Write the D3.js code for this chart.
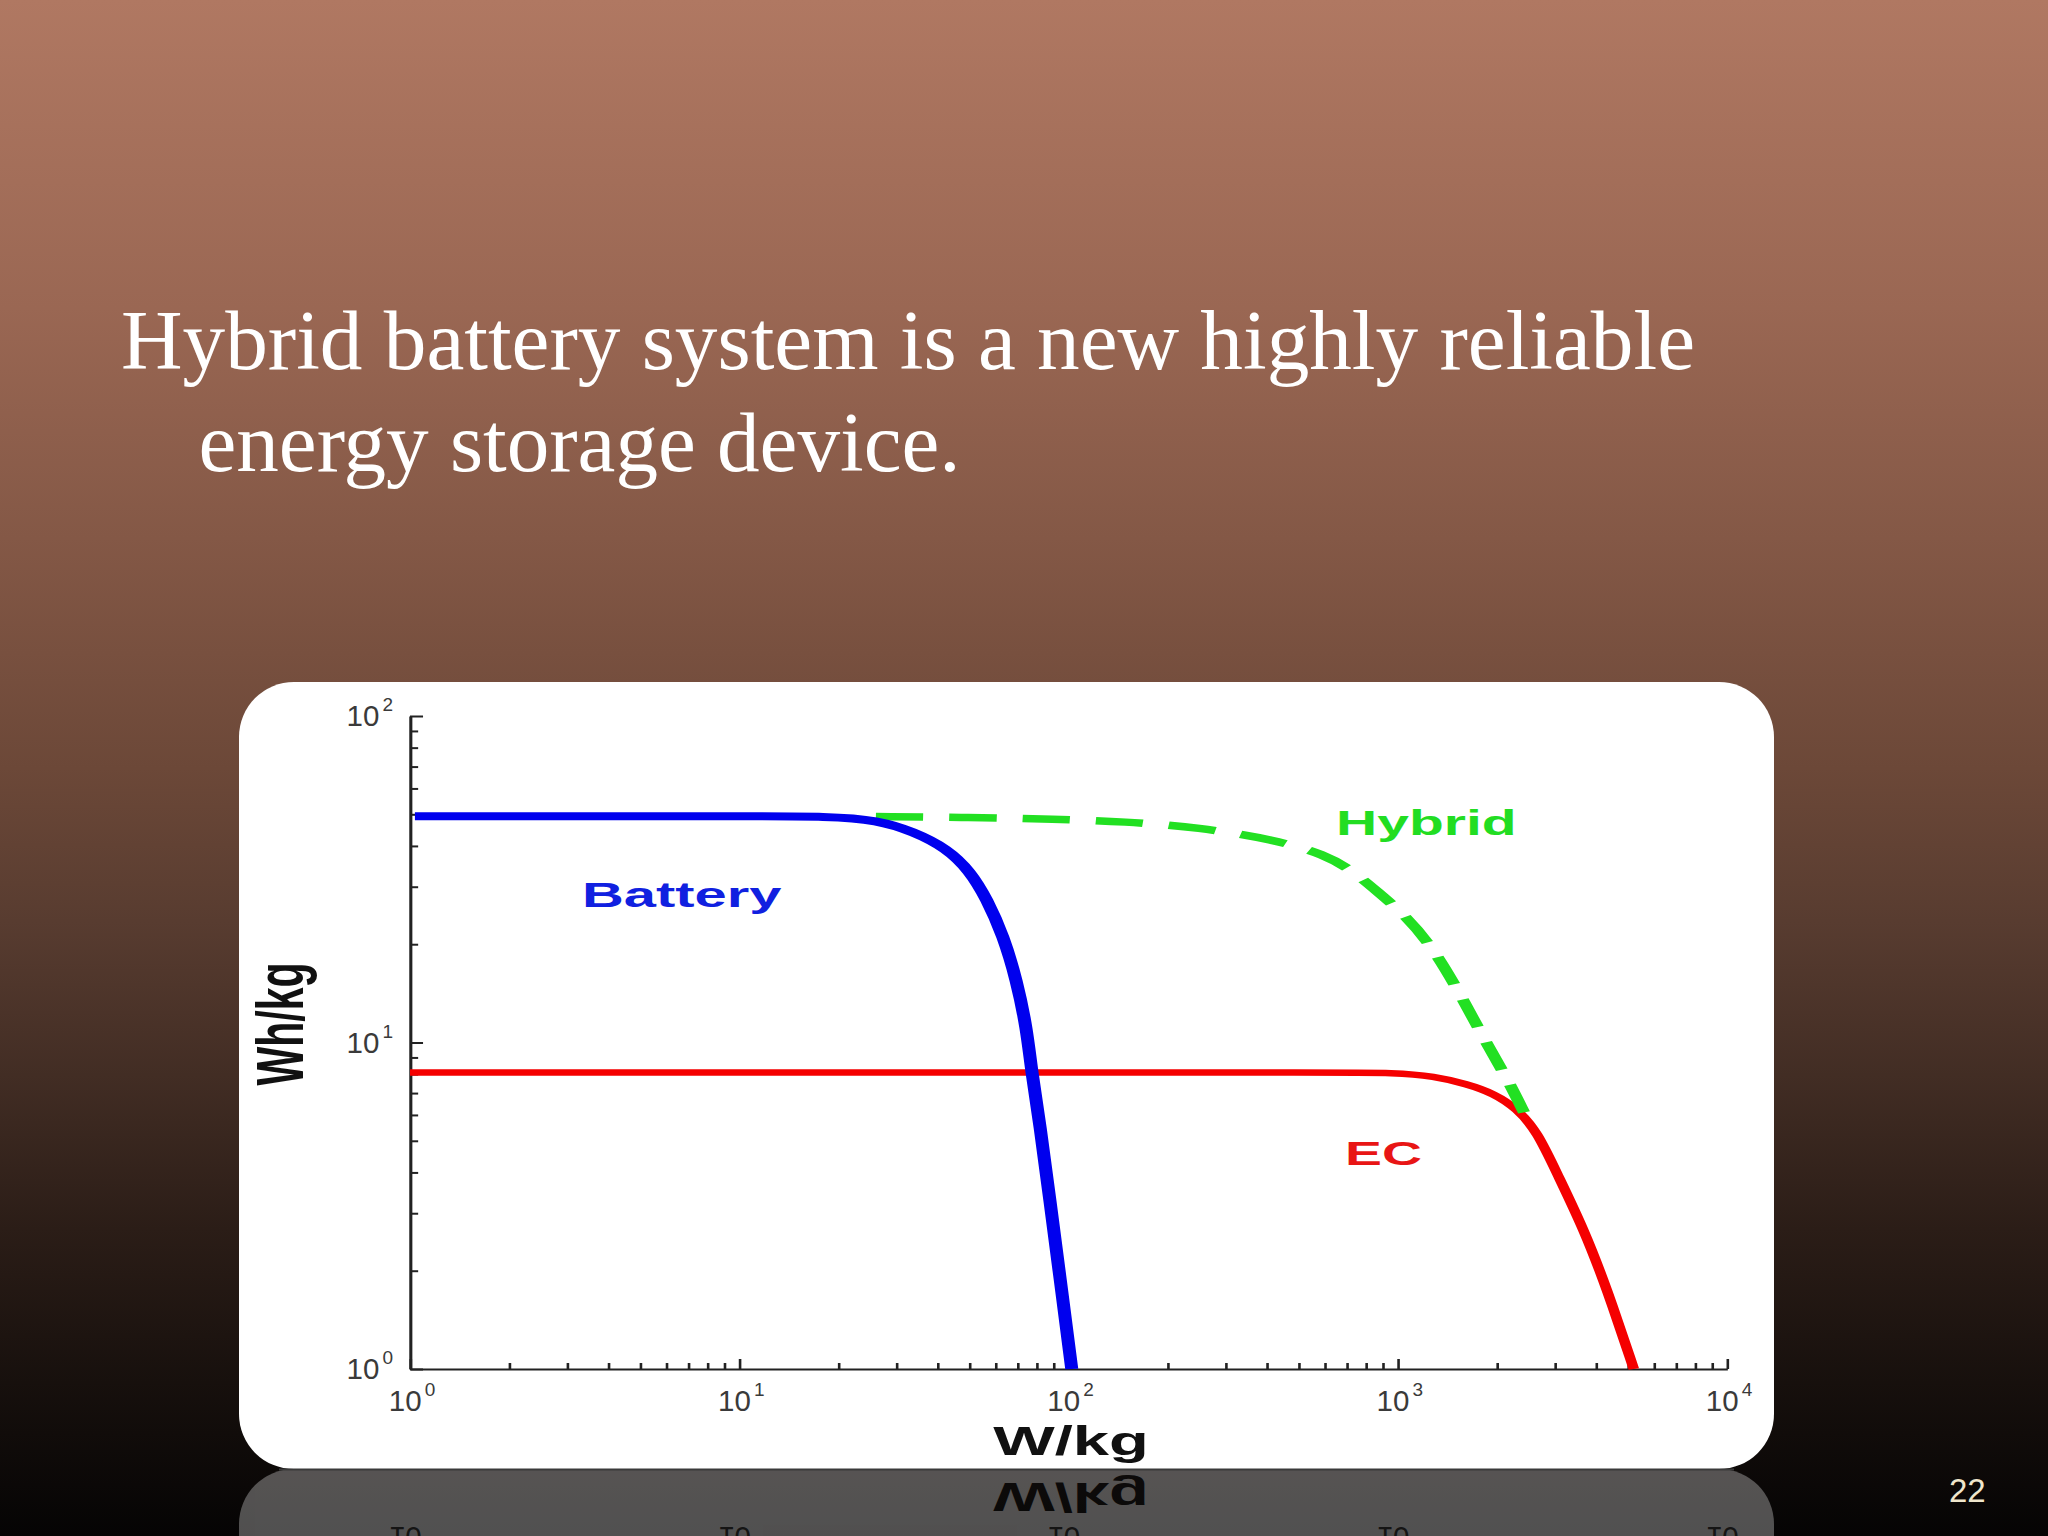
<!DOCTYPE html>
<html>
<head>
<meta charset="utf-8">
<script src="https://cdn.jsdelivr.net/npm/d3@7"></script>
<style>
  html, body { margin: 0; padding: 0; background: #000; }
  svg { display: block; }
</style>
</head>
<body>
<script>
// ---------- DATA (W/kg, Wh/kg) ----------
const battery = [[1.035,49.3],[10,49.3],[18.9,49.3],[26.2,48.0],[33.8,44.3],[42.7,39.3],[50.2,33.5],[56.5,27.5],[63.4,21.2],[69.6,15.5],[74.7,11.0],[77.3,8.09],[81.9,5.62],[87.8,3.28],[94.2,1.91],[102.3,1.0]];
const hybrid  = [[26,49.2],[50,48.9],[91,48.3],[148,47.5],[249,45.6],[421,41.8],[601,37.7],[733,33.4],[863,29.1],[1064,24.3],[1283,19.4],[1546,14.1],[1863,9.9],[2143,7.8],[2420,6.1]];
const ec      = [[1,8.09],[100,8.09],[600,8.09],[993,8.09],[1285,7.88],[1622,7.47],[1958,6.98],[2306,6.27],[2653,5.33],[3050,3.96],[3675,2.68],[4328,1.75],[5212,1.0]];

const xMajor = [1, 10, 100, 1000, 10000];
const yMajor = [1, 10, 100];
const xTickExp = ["0", "1", "2", "3", "4"];
const yTickExp = ["0", "1", "2"];
const seriesLabels = ["Battery", "Hybrid", "EC"];
const titleLines = ["Hybrid battery system is a new highly reliable", "energy storage device."];
const pageNumber = "22";
const xTitle = "W/kg";
const yTitle = "Wh/kg";

// ---------- LAYOUT ----------
const W = 2048, H = 1536;
const SX = 1.63; // horizontal stretch of the embedded chart picture
const px0 = 410, px1 = 1727, py0 = 1369, py1 = 716;
const card = {x: 239, y: 682, w: 1535, h: 787, r: 55};

function minorTicks(majors) {
  const t = [];
  for (let i = 0; i < majors.length - 1; i++)
    for (let k = 1; k <= 9; k++) t.push(majors[i] * k);
  t.push(majors[majors.length - 1]);
  return t;
}

const svg = d3.select("body").append("svg").attr("width", W).attr("height", H);
const defs = svg.append("defs");

const bg = defs.append("linearGradient").attr("id", "bg").attr("x1", 0).attr("y1", 0).attr("x2", 0).attr("y2", 1);
[[0, "#B07862"], [0.2, "#9A6753"], [0.35, "#845846"], [0.5, "#6C4838"], [0.6, "#583C30"], [0.7, "#422D24"], [0.8, "#2B1D17"], [0.9, "#17100D"], [1, "#050404"]]
  .forEach(([o, c]) => bg.append("stop").attr("offset", o).attr("stop-color", c));

defs.append("clipPath").attr("id", "reflClip")
  .append("rect").attr("x", 0).attr("y", card.y + card.h).attr("width", W).attr("height", H - card.y - card.h);

svg.append("rect").attr("width", W).attr("height", H).attr("fill", "url(#bg)");

// ---------- TITLE ----------
svg.append("text").attr("x", 121).attr("y", 369)
  .attr("font-family", "'Liberation Serif','Times New Roman',serif").attr("font-size", 85.5)
  .attr("fill", "#FFFFFF").attr("textLength", 1574).attr("lengthAdjust", "spacingAndGlyphs")
  .text(titleLines[0]);
svg.append("text").attr("x", 198.5).attr("y", 471)
  .attr("font-family", "'Liberation Serif','Times New Roman',serif").attr("font-size", 85.5)
  .attr("fill", "#FFFFFF").attr("textLength", 762).attr("lengthAdjust", "spacingAndGlyphs")
  .text(titleLines[1]);

// ---------- CARD ----------
const cardG = svg.append("g").attr("id", "card");
cardG.append("rect").attr("x", card.x).attr("y", card.y).attr("width", card.w).attr("height", card.h)
  .attr("rx", card.r).attr("ry", card.r).attr("fill", "#FFFFFF");

// screen scales (for text) and stretched-group scales (for marks)
const x = d3.scaleLog().domain([1, 10000]).range([px0, px1]);
const xs = d3.scaleLog().domain([1, 10000]).range([px0 / SX, px1 / SX]);
const y = d3.scaleLog().domain([1, 100]).range([py0, py1]);

const plot = cardG.append("g").attr("transform", `scale(${SX},1)`);

// axes
const xAxis = d3.axisTop(xs).tickValues(minorTicks(xMajor)).tickSize(6).tickSizeOuter(0).tickFormat("");
const gx = plot.append("g").attr("transform", `translate(0,${py0})`).attr("color", "#222").call(xAxis);
gx.select(".domain").attr("stroke-width", 2);
gx.selectAll(".tick line").attr("stroke-width", 1.6)
  .attr("y2", d => xMajor.includes(d) ? -10 : -6);

const yAxis = d3.axisRight(y).tickValues(minorTicks(yMajor)).tickSize(5).tickSizeOuter(0).tickFormat("");
const gy = plot.append("g").attr("transform", `translate(${px0 / SX},0)`).attr("color", "#222").call(yAxis);
gy.select(".domain").attr("stroke-width", 1.9);
gy.selectAll(".tick line").attr("stroke-width", 2)
  .attr("x2", d => yMajor.includes(d) ? 8 : 5);

// curves
const line = d3.line().x(d => xs(d[0])).y(d => y(d[1])).curve(d3.curveBasis);
plot.append("path").datum(ec).attr("d", line).attr("fill", "none")
  .attr("stroke", "#F50000").attr("stroke-width", 6.5).attr("stroke-linejoin", "round");
plot.append("path").datum(hybrid).attr("d", line).attr("fill", "none")
  .attr("stroke", "#22E022").attr("stroke-width", 7.5).attr("stroke-dasharray", "29 16");
plot.append("path").datum(battery).attr("d", line).attr("fill", "none")
  .attr("stroke", "#0000EE").attr("stroke-width", 8).attr("stroke-linejoin", "round");

// tick labels
const tickFont = "'Liberation Sans',Arial,sans-serif";
xMajor.forEach((v, i) => {
  const t = cardG.append("text").attr("x", x(v) + 2).attr("y", py0 + 42)
    .attr("text-anchor", "middle").attr("font-family", tickFont).attr("font-size", 29.5).attr("fill", "#3a3a3a");
  t.append("tspan").text("10");
  t.append("tspan").attr("dx", 3).attr("dy", -15).attr("font-size", 19).text(xTickExp[i]);
});
yMajor.forEach((v, i) => {
  const t = cardG.append("text").attr("x", 393).attr("y", y(v) + 10)
    .attr("text-anchor", "end").attr("font-family", tickFont).attr("font-size", 29.5).attr("fill", "#3a3a3a");
  t.append("tspan").text("10");
  t.append("tspan").attr("dx", 3).attr("dy", -15).attr("font-size", 19).text(yTickExp[i]);
});

// axis titles
cardG.append("text").attr("transform", `translate(1071,1455) scale(${SX},1)`)
  .attr("text-anchor", "middle").attr("font-family", tickFont).attr("font-weight", "bold")
  .attr("font-size", 40).attr("fill", "#111").text(xTitle);
cardG.append("text").attr("transform", `translate(303,1024) rotate(-90) scale(1,${SX})`)
  .attr("text-anchor", "middle").attr("font-family", tickFont).attr("font-weight", "bold")
  .attr("font-size", 41).attr("fill", "#111").text(yTitle);

// series labels
const labelSpecs = [
  {x: 582, y: 907, size: 35.5, color: "#1020E0"},
  {x: 1336, y: 835, size: 35, color: "#22DD22"},
  {x: 1345, y: 1165, size: 34, color: "#E81515"}
];
seriesLabels.forEach((s, i) => {
  const p = labelSpecs[i];
  cardG.append("text").attr("transform", `translate(${p.x},${p.y}) scale(${SX},1)`)
    .attr("font-family", tickFont).attr("font-weight", "bold").attr("font-size", p.size)
    .attr("fill", p.color).text(s);
});

// ---------- REFLECTION ----------
svg.append("g").attr("clip-path", "url(#reflClip)")
  .append("use").attr("href", "#card")
  .attr("transform", `matrix(1,0,0,-1,0,${2 * (card.y + card.h)})`)
  .attr("opacity", 0.3);
svg.append("rect").attr("x", card.x + 40).attr("y", card.y + card.h - 0.5).attr("width", card.w - 80).attr("height", 2)
  .attr("fill", "#3a3a3a");

// ---------- PAGE NUMBER ----------
svg.append("text").attr("x", 1949).attr("y", 1502)
  .attr("font-family", tickFont).attr("font-size", 33).attr("fill", "#EFE6CC").text(pageNumber);
</script>
</body>
</html>
